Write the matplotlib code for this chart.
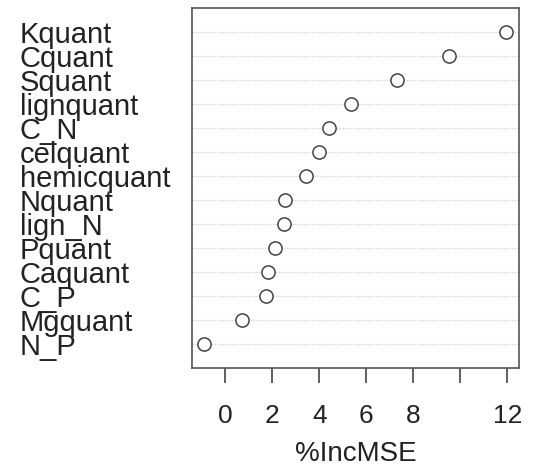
import matplotlib
matplotlib.use('Agg')
import matplotlib.pyplot as plt

plt.rcParams['font.family'] = ['Liberation Sans', 'DejaVu Sans']

# variable importance, top to bottom as in the picture
variables = ['Kquant', 'Cquant', 'Squant', 'lignquant', 'C_N', 'celquant',
             'hemicquant', 'Nquant', 'lign_N', 'Pquant', 'Caquant', 'C_P',
             'Mgquant', 'N_P']
inc_mse = [11.94, 9.52, 7.32, 5.34, 4.41, 3.98, 3.43, 2.53, 2.50, 2.10,
           1.82, 1.73, 0.71, -0.92]
xticks = [0, 2, 4, 6, 8, 10, 12]
xticklabels = ['0', '2', '4', '6', '8', '', '12']

n = len(variables)
ypos = list(range(n, 0, -1))

fig = plt.figure(figsize=(5.35, 4.75), dpi=100)
ax = fig.add_axes([192 / 535, 1 - 368 / 475, 327 / 535, 360 / 475])

for y in ypos:
    ax.axhline(y, color='#d4d4d4', linestyle=(0, (1, 1)), linewidth=1, zorder=1)
ax.plot(inc_mse, ypos, 'o', markersize=9.5, markerfacecolor='white',
        markeredgecolor='#444444', markeredgewidth=1.1, zorder=3)

ax.set_ylim(0, n + 1)
ax.set_xlim(-1.42, 12.5)

ax.set_yticks(ypos)
ax.set_yticklabels(variables, fontsize=21, color='#222222')
ax.tick_params(axis='y', length=0, pad=124)
for lab in ax.get_yticklabels():
    lab.set_ha('left')

ax.set_xticks(xticks)
ax.set_xticklabels(xticklabels, fontsize=19, color='#222222')
ax.tick_params(axis='x', length=11, width=1.2, color='#444444', pad=15)
ax.set_xlabel('%IncMSE', fontsize=20, color='#222222', labelpad=9)

for s in ax.spines.values():
    s.set_color('#555555')
    s.set_linewidth(1.2)

fig.savefig('out.png', dpi=100)
